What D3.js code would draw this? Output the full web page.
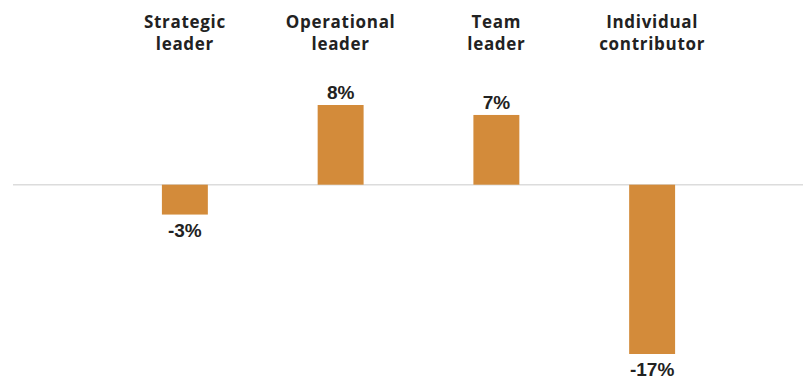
<!DOCTYPE html>
<html><head><meta charset="utf-8">
<script src="https://cdn.jsdelivr.net/npm/d3@7"></script>
<style>body{margin:0;background:#fff}</style>
</head><body>
<svg id="c" width="803" height="380"></svg>
<script>
const categories = [["Strategic","leader"],["Operational","leader"],["Team","leader"],["Individual","contributor"]];
const values = [-3, 8, 7, -17];
const valueLabels = ["-3%","8%","7%","-17%"];

const svg = d3.select("#c");
const x = d3.scaleBand().domain(d3.range(categories.length)).range([107, 730]).paddingInner(0.705).paddingOuter(0.3525);
const y = d3.scaleLinear().domain([-17, 8]).range([354, 105]);

svg.append("line").attr("x1", 13).attr("x2", 803).attr("y1", y(0)).attr("y2", y(0))
  .attr("stroke", "#dcdcdc").attr("stroke-width", 1.5);

svg.selectAll("rect.bar").data(values).join("rect").attr("class","bar")
  .attr("x", (d,i)=>x(i)).attr("width", x.bandwidth())
  .attr("y", d=>y(Math.max(0,d))).attr("height", d=>Math.abs(y(d)-y(0)))
  .attr("fill", "#d38b3a");

svg.selectAll("text.val").data(values).join("text").attr("class","val")
  .attr("x", (d,i)=>x(i)+x.bandwidth()/2)
  .attr("y", d=> d>=0 ? y(d)-6 : y(d)+22)
  .attr("text-anchor","middle")
  .attr("font-family","Liberation Sans, Arial, sans-serif").attr("font-weight","bold")
  .attr("font-size", 19).attr("fill","#222")
  .text((d,i)=>valueLabels[i]);

const cat = svg.selectAll("text.cat").data(categories).join("text").attr("class","cat")
  .attr("x", (d,i)=>x(i)+x.bandwidth()/2).attr("text-anchor","middle")
  .attr("font-family","Open Sans, sans-serif").attr("font-weight","bold")
  .attr("font-size", 17).attr("letter-spacing", 0.7).attr("fill","#222");
cat.selectAll("tspan").data(d=>d).join("tspan")
  .attr("x", function(){return this.parentNode.getAttribute("x");})
  .attr("y", (d,j)=>28 + j*22).text(d=>d);
</script>
</body></html>
